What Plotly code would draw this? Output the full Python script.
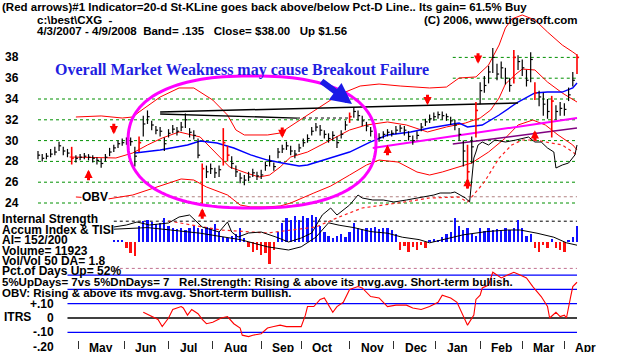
import math
import plotly.graph_objects as go

W, H = 640, 352

# ---------------- data ----------------
# trading-day index (0 = 4/3/2007 ... 256 = 4/9/2008); one bar every 2 days
bar_day = list(range(0, 257, 2))
close = [28.6, 28.3, 28.5, 28.7, 28.9, 29.5, 29.0, 28.8, 28.3, 28.3,
         28.4, 28.5, 28.4, 28.3, 28.1, 27.8, 28.4, 28.9, 29.3, 29.7,
         29.8, 30.0, 29.9, 28.5, 29.8, 31.6, 32.3, 31.5, 31.0, 30.9,
         29.7, 30.7, 31.1, 30.9, 31.3, 32.0, 30.8, 30.5, 28.6, 27.3,
         27.0, 27.3, 26.9, 27.2, 29.8, 28.6, 27.8, 27.0, 26.4, 26.2,
         26.5, 26.9, 26.6, 26.7, 27.6, 28.0, 27.5, 28.9, 29.2, 29.5,
         29.0, 28.7, 29.3, 29.8, 30.2, 30.9, 31.3, 31.0, 30.6, 30.2,
         30.5, 29.8, 30.6, 31.5, 32.3, 32.8, 32.4, 31.9, 31.4, 30.9,
         30.6, 30.3, 30.6, 30.8, 30.7, 31.0, 31.2, 31.0, 30.4, 30.0,
         30.5, 31.3, 31.8, 32.1, 32.3, 32.5, 32.4, 32.3, 31.9, 31.5,
         30.6, 29.0, 27.0, 29.4, 32.9, 34.8, 35.3, 36.6, 38.0, 36.4,
         37.0, 36.0, 35.3, 38.0, 37.6, 37.0, 35.8, 37.8, 34.6, 34.2,
         33.5, 32.8, 33.8, 32.8, 33.1, 33.0, 34.4, 35.8, 38.0]
high = [29.0, 28.7, 28.8, 29.2, 29.4, 29.9, 29.4, 29.2, 29.4, 28.6,
        28.7, 28.8, 28.7, 28.6, 28.4, 28.3, 28.7, 29.3, 29.6, 30.0,
        30.2, 30.3, 30.3, 29.4, 30.4, 32.4, 32.9, 31.9, 31.4, 31.3,
        30.3, 31.1, 31.5, 31.3, 31.8, 32.6, 31.2, 31.0, 30.2, 27.8,
        27.6, 27.8, 27.4, 27.6, 31.2, 29.5, 28.5, 27.6, 26.9, 26.7,
        27.0, 27.3, 27.0, 27.2, 28.0, 28.6, 27.9, 29.3, 29.6, 29.9,
        29.5, 29.1, 29.7, 30.2, 30.6, 31.3, 31.7, 31.5, 31.0, 30.7,
        30.9, 30.4, 31.0, 31.9, 32.7, 33.2, 32.9, 32.4, 31.8, 31.3,
        31.0, 30.7, 30.9, 31.1, 31.0, 31.4, 31.5, 31.4, 30.9, 30.5,
        30.9, 31.7, 32.1, 32.5, 32.7, 32.8, 32.8, 32.6, 32.3, 32.0,
        31.2, 30.0, 29.6, 30.4, 33.7, 35.6, 36.2, 37.2, 38.9, 37.4,
        37.6, 37.0, 36.0, 38.7, 38.2, 37.8, 36.8, 38.5, 35.6, 34.8,
        34.6, 34.0, 34.3, 33.4, 33.7, 33.6, 35.1, 36.6, 38.3]
low = [28.2, 28.0, 28.2, 28.4, 28.6, 29.0, 28.6, 28.4, 27.7, 27.9,
       28.1, 28.2, 28.1, 27.9, 27.7, 27.4, 28.0, 28.5, 28.9, 29.3,
       29.5, 29.6, 29.5, 27.5, 28.9, 30.4, 31.6, 31.0, 30.6, 30.4,
       29.0, 30.3, 30.7, 30.5, 30.9, 31.2, 30.3, 30.1, 28.3, 23.8,
       26.4, 26.8, 26.4, 26.5, 27.6, 28.0, 27.3, 26.5, 25.9, 25.7,
       26.1, 26.5, 26.2, 26.3, 27.1, 27.5, 27.1, 28.3, 28.8, 29.1,
       28.6, 28.3, 28.9, 29.4, 29.8, 30.5, 30.9, 30.5, 30.2, 29.8,
       30.0, 29.3, 30.2, 31.0, 31.7, 32.2, 31.9, 31.4, 30.9, 30.4,
       30.2, 29.9, 30.2, 30.4, 30.4, 30.6, 30.8, 30.5, 30.0, 29.6,
       30.1, 30.9, 31.4, 31.7, 31.9, 32.1, 32.0, 31.9, 31.5, 31.0,
       30.0, 27.5, 25.4, 27.8, 30.3, 33.5, 34.6, 35.5, 36.5, 35.8,
       36.0, 35.4, 34.7, 35.5, 36.8, 36.2, 35.2, 35.6, 33.9, 33.3,
       32.4, 32.1, 30.3, 32.0, 32.4, 32.4, 33.8, 35.2, 36.4]
red_bar_day = [16, 48, 78, 88, 90, 148, 204, 208, 226, 236, 244, 256]

price_ticks = [24, 26, 28, 30, 32, 34, 36, 38]
months = ["May", "Jun", "Jul", "Aug", "Sep", "Oct", "Nov", "Dec", "Jan", "Feb", "Mar", "Apr"]
month_day = [19, 41, 62, 83, 106, 125, 148, 169, 189, 210, 230, 250]

upper_day = [18, 30, 40, 45, 48, 58, 67, 74, 83, 90, 94, 98, 109, 115, 123, 133, 139, 146, 153, 162,
             172, 186, 194, 200, 208, 214, 219, 222, 225, 230, 236, 242, 249, 254, 256]
upper_val = [32.27, 32.37, 32.17, 32.27, 32.75, 34.19, 35.06, 35.06, 33.90, 32.46, 31.02, 30.54, 30.54,
             30.73, 31.79, 33.13, 33.90, 34.67, 35.25, 35.44, 35.25, 35.06, 35.15, 36.02, 36.12, 37.27,
             39.19, 40.83, 41.69, 42.08, 41.60, 40.44, 39.19, 38.52, 38.23]
mid_day = [15, 29, 37, 45, 52, 59, 67, 77, 83, 91, 99, 105, 110, 115, 120, 128, 139, 148, 156, 166,
           175, 185, 194, 203, 210, 215, 219, 222, 227, 230, 236, 242, 249, 254, 256]
mid_val = [28.42, 28.33, 28.33, 28.81, 29.58, 30.25, 30.83, 30.35, 29.10, 27.46, 26.88, 26.50, 26.69,
           27.46, 28.42, 28.90, 30.06, 31.02, 31.50, 31.79, 31.50, 30.83, 31.31, 31.69, 32.17, 32.94,
           34.10, 35.44, 36.40, 36.88, 36.79, 35.63, 34.58, 34.00, 33.71]
lower_day = [18, 33, 45, 52, 62, 68, 74, 80, 90, 96, 101, 108, 115, 120, 131, 139, 148, 156, 162, 171,
             180, 186, 192, 200, 206, 214, 222, 228, 235, 241, 247, 254, 256]
lower_val = [24.58, 24.38, 24.77, 25.25, 25.92, 26.31, 26.21, 25.54, 24.77, 23.81, 23.62, 23.62, 23.71,
             24.00, 24.96, 25.63, 26.69, 27.65, 28.13, 27.94, 26.98, 26.69, 26.98, 27.46, 27.85, 28.90,
             30.25, 31.50, 31.98, 31.50, 30.54, 29.58, 29.10]
ma50_day = [46, 58, 71, 77, 85, 93, 101, 109, 116, 124, 128, 139, 148, 158, 166, 177, 186, 200, 204,
            211, 219, 228, 236, 242, 249, 254, 256]
ma50_val = [28.81, 29.10, 29.58, 29.96, 29.77, 29.29, 28.62, 28.13, 27.85, 27.56, 27.65, 28.33, 28.90,
            29.87, 30.54, 30.83, 31.21, 31.69, 31.31, 31.50, 32.46, 33.71, 34.58, 34.67, 34.67, 35.06, 35.54]

magenta_day, magenta_val = [159, 256], [29.29, 32.17]
purple_day, purple_val = [197, 256], [29.67, 31.21]
res1_day, res1_val = [58, 228], [32.75, 33.62]
res2_day, res2_val = [58, 123], [32.56, 32.17]
res2d_day, res2d_val = [123, 148], [32.17, 32.17]

obv_day = [36, 42, 47, 53, 62, 67, 72, 78, 86, 90, 92, 95, 100, 106, 113, 119, 125, 130, 135, 139,
           142, 145, 148, 150, 152, 154, 159, 164, 169, 175, 181, 188, 191, 196, 198, 203, 205, 207, 208, 209,
           211, 214, 217, 222, 227, 233, 236, 239, 242, 245, 246, 249, 252, 255, 256]
obv_val = [1.3, 1.5, 1.8, 1.5, 1.7, 2.3, 2.5, 1.3, 0.8, 1.8, 0.8, 0.3, 0.7, 0.8, 0.3, -0.2, 0.2, 0.7, 2.5, 3.2,
           2.5, 3.0, 3.5, 4.0, 4.5, 4.2, 4.0, 4.0, 3.8, 4.0, 4.2, 4.5, 4.7, 4.7, 4.8, 4.2, 3.8, 8.2, 8.8, 9.5,
           9.8, 9.5, 10.0, 9.8, 10.0, 10.3, 9.8, 9.8, 9.2, 8.8, 7.2, 7.5, 7.7, 8.5, 9.5]
obvma_day = [62, 73, 87, 109, 132, 143, 154, 171, 186, 200, 204, 212, 219, 225, 230, 236, 242, 249, 254, 256]
obvma_val = [1.9, 1.5, 1.0, 0.7, 1.3, 2.3, 3.2, 3.7, 4.2, 4.3, 3.8, 5.8, 8.2, 9.5, 10.0, 10.0, 9.8, 9.5, 8.8, 8.5]

ai_val = [None] * 18 + [
    0.02, 0.03, 0.02, -0.08, -0.14, -0.18, 0.20, 0.26, 0.28, 0.25,
    0.22, 0.24, 0.30, 0.20, 0.17, 0.16, 0.18, 0.15, 0.17, 0.20,
    0.18, 0.16, 0.19, 0.18, 0.22, 0.12, 0.06, 0.05, 0.07, 0.10,
    0.18, 0.05, -0.06, -0.12, -0.10, -0.16, -0.14, -0.28, -0.10, 0.12,
    0.24, 0.30, 0.28, 0.32, 0.27, 0.33, 0.30, 0.34, 0.31, 0.20,
    0.12, 0.08, 0.05, 0.07, 0.10, 0.06, 0.12, 0.24, 0.18, 0.16,
    0.18, 0.17, 0.19, 0.16, 0.18, 0.17, 0.15, 0.10, -0.10, -0.05,
    -0.12, -0.06, -0.10, -0.04, -0.08, 0.02, 0.04, 0.02, 0.06, 0.10,
    0.12, 0.30, 0.20, 0.15, 0.18, 0.10, 0.08, 0.17, 0.14, 0.18,
    0.15, 0.16, 0.14, 0.17, 0.15, 0.18, 0.27, 0.18, 0.08, 0.10,
    -0.08, -0.12, -0.04, -0.08, 0.04, -0.08, -0.10, -0.12, 0.02, 0.06,
    0.20]
aima_day = [36, 52, 63, 77, 96, 109, 119, 125, 132, 138, 143, 150, 158, 166, 173, 181, 186, 192, 202,
            213, 223, 229, 237, 245, 251, 256]
aima_val = [0.16, 0.18, 0.15, 0.11, 0.03, -0.06, -0.10, -0.06, 0.06, 0.24, 0.21, 0.18, 0.13, 0.11, 0.06,
            0.03, -0.01, 0.03, 0.09, 0.13, 0.15, 0.15, 0.11, 0.06, -0.01, -0.04]
ai_levels = [0.26, -0.33]

itrs_day = [50, 53, 57, 59, 62, 64, 68, 69, 71, 73, 76, 78, 80, 83, 87, 90, 93, 96, 97, 100,
            102, 106, 109, 112, 115, 118, 121, 125, 127, 128, 131, 134, 136, 140, 142, 145, 148, 152, 154, 158,
            162, 166, 170, 175, 178, 182, 186, 190, 192, 196, 199, 202, 204, 207, 208, 210, 211, 214, 216, 220,
            223, 226, 229, 232, 235, 239, 242, 243, 246, 248, 250, 251, 253, 254, 256]
itrs_val = [0.04, 0.02, -0.01, -0.06, 0.0, 0.06, 0.08, 0.07, 0.02, 0.06, 0.03, -0.01, -0.04, -0.03, 0.0,
            0.01, -0.04, -0.07, -0.12, -0.13, -0.12, -0.11, -0.07, -0.06, -0.05, -0.06, -0.06, -0.06, 0.02,
            0.08, 0.08, 0.13, 0.14, 0.04, 0.08, 0.11, 0.20, 0.22, 0.21, 0.15, 0.14, 0.08, 0.09, 0.09, 0.07,
            0.06, 0.08, 0.11, 0.16, 0.14, 0.11, 0.01, -0.05, 0.02, 0.13, 0.16, 0.21, 0.23, 0.32, 0.28, 0.30,
            0.32, 0.30, 0.28, 0.22, 0.15, 0.08, 0.0, 0.04, 0.01, 0.02, 0.0, 0.15, 0.22, 0.25]
itrs_blue_levels = [0.30, 0.20, 0.10, -0.10]
itrs_labels = [("+.10", 0.10), ("0", 0.0), ("-.10", -0.10), ("-.20", -0.20)]

buy_day = [24, 78, 166, 204, 236]
buy_price = [27.2, 23.5, 29.6, 26.4, 31.0]
sell_day = [36, 116, 185, 209]
sell_price = [30.6, 30.25, 33.4, 37.4]

# ---------------- layout calibration ----------------
def axis_range(v1, p1, v2, p2):
    s = (v2 - v1) / (p2 - p1)
    return [v1 + s * (H - p1), v1 + s * (0 - p1)]

x_s = (256 - 0) / (577 - 38)
x_range = [0 + x_s * (0 - 38), 0 + x_s * (W - 38)]
y_price = axis_range(24, 203, 38, 57.4)
y_ai = axis_range(0, 242, 0.25, 222)
y_itrs = axis_range(0, 318, 0.10, 303.7)
y_obv = axis_range(0, 240, 1, 230)

def px(x):
    return x / W

def py(y):
    return 1 - y / H

FONT = "Liberation Sans"
FS = 11.5
fig = go.Figure()

def line(xs, ys, color, width=1, dash=None, yaxis="y"):
    fig.add_trace(go.Scatter(x=xs, y=ys, mode="lines", yaxis=yaxis, hoverinfo="skip",
                             line=dict(color=color, width=width, dash=dash)))

# AI histogram
ai_x = [d for d, v in zip(bar_day, ai_val) if v is not None]
ai_y = [v for v in ai_val if v is not None]
fig.add_trace(go.Bar(x=ai_x, y=ai_y, yaxis="y2", width=1.1,
                     marker=dict(color=["#1010ff" if v >= 0 else "#ff1010" for v in ai_y], line_width=0)))
line(aima_day, aima_val, "black", 1, yaxis="y2")

# ITRS
line(itrs_day, itrs_val, "#ff0000", 1.1, yaxis="y3")

# OBV
line(obvma_day, obvma_val, "#ff2020", 1.2, "dot", yaxis="y4")
line(obv_day, obv_val, "black", 1, yaxis="y4")

# price overlays
line(upper_day, upper_val, "#ff0000", 1)
line(mid_day, mid_val, "#ff0000", 1)
line(lower_day, lower_val, "#ff0000", 1)
line(ma50_day, ma50_val, "#0000ff", 1.4)
line(res1_day, res1_val, "black", 1.5)
line(res2_day, res2_val, "black", 1.3)
line(res2d_day, res2d_val, "black", 1, "dot")
line(purple_day, purple_val, "#800080", 1.5)
line(magenta_day, magenta_val, "#ff00ff", 2)

# price bars
def bar_paths(sel):
    xs, ys = [], []
    for d, h, l, c in zip(bar_day, high, low, close):
        if sel(d):
            xs += [d, d, None, d, d + 1.0, None]
            ys += [l, h, None, c, c, None]
    return xs, ys

bx, by = bar_paths(lambda d: d not in red_bar_day)
line(bx, by, "black", 1.2)
rx, ry = bar_paths(lambda d: d in red_bar_day)
line(rx, ry, "#ff0000", 1.6)

shapes = []
# price grid
for v in price_ticks:
    x0 = 197 if v >= 36 else 0
    shapes.append(dict(type="line", xref="x", yref="y", x0=x0, x1=256, y0=v, y1=v, layer="below",
                       line=dict(color="#009000", width=1, dash="dot")))
shapes.append(dict(type="line", xref="x", yref="y", x0=36, x1=256, y0=24.6, y1=24.6, layer="below",
                   line=dict(color="#b08080", width=1, dash="dot")))
# AI levels
shapes.append(dict(type="line", xref="x", yref="y2", x0=36, x1=256, y0=ai_levels[0], y1=ai_levels[0],
                   layer="below", line=dict(color="black", width=1, dash="dot")))
shapes.append(dict(type="line", xref="x", yref="y2", x0=36, x1=256, y0=ai_levels[1], y1=ai_levels[1],
                   layer="below", line=dict(color="#c07090", width=1, dash="dot")))
# ITRS levels
for v in itrs_blue_levels:
    shapes.append(dict(type="line", xref="x", yref="y3", x0=14, x1=256, y0=v, y1=v, layer="below",
                       line=dict(color="#0000ff", width=1.3)))
shapes.append(dict(type="line", xref="x", yref="y3", x0=14, x1=256, y0=0, y1=0, layer="below",
                   line=dict(color="black", width=1.3)))
# magenta ellipse (hand drawn highlight)
cx, cy, ea, eb, n = 252, 142, 124, 66, 2.4
pts = []
for i in range(145):
    t = 2 * math.pi * i / 144
    c, s = math.cos(t), math.sin(t)
    ex = cx + ea * math.copysign(abs(c) ** (2 / n), c)
    ey = cy + eb * math.copysign(abs(s) ** (2 / n), s)
    pts.append(f"{px(ex):.4f},{py(ey):.4f}")
shapes.append(dict(type="path", xref="paper", yref="paper", path="M " + " L ".join(pts) + " Z",
                   line=dict(color="#ff00ff", width=3)))

ann = []

def txt(s, x, y, size=FS, color="black", family=FONT, weight="bold", xanchor="left", bg=None,
        xref="paper", yref="paper"):
    d = dict(text=s, x=x, y=y, xref=xref, yref=yref, xanchor=xanchor, yanchor="middle",
             showarrow=False, font=dict(family=family, size=size, color=color, weight=weight))
    if bg:
        d.update(bgcolor=bg, borderpad=0)
    ann.append(d)

txt("(Red arrows)#1 Indicator=20-d St-KLine goes back above/below Pct-D Line.. Its gain= 61.5% Buy",
    0, py(7))
txt("c:\\best\\CXG  -", px(35), py(20))
txt("4/3/2007 - 4/9/2008  Band= .135   Close= $38.00   Up $1.56", px(35), py(31))
txt("(C) 2006, www.tigersoft.com", px(422), py(20))
txt("Overall Market Weakness may cause Breakout Failure", px(53), py(70), size=16,
    color="#1f1fe0", family="Liberation Serif")
for v in price_ticks:
    txt(str(v), px(12), v, size=12, xanchor="center", yref="y")
txt("OBV", px(81), py(197), size=12, bg="white")

left_lines = ["Internal Strength", "Accum Index & TISI", "AI= 152/200", "Volume= 11923",
              "Vol/Vol 50 DA= 1.8", "Pct.of Days Up= 52%",
              "5%UpDays= 7vs 5%DnDays= 7   Rel.Strength: Rising & above its mvg.avg. Short-term bullish.",
              "OBV: Rising & above its mvg.avg. Short-term bullish."]
left_y = [219, 230, 240, 251, 261, 271, 282, 293]
for s, yy in zip(left_lines, left_y):
    txt(s, 0, py(yy), size=12 if yy < 280 else FS)
txt("ITRS", px(2), py(317), size=12)
for s, v in itrs_labels:
    txt(s, px(56), v, size=12, xanchor="right", yref="y3")
for m, d in zip(months, month_day):
    ann.append(dict(text=m, x=d, y=py(348), xref="x", yref="paper", xanchor="left", yanchor="middle",
                    xshift=9, showarrow=False, font=dict(family=FONT, size=12, color="black", weight="bold")))

# red signal arrows
for d, v in zip(buy_day, buy_price):
    ann.append(dict(x=d, y=v, xref="x", yref="y", ax=0, ay=12, text="", showarrow=True,
                    arrowhead=2, arrowsize=0.55, arrowwidth=3, arrowcolor="#ff0000"))
for d, v in zip(sell_day, sell_price):
    ann.append(dict(x=d, y=v, xref="x", yref="y", ax=0, ay=-12, text="", showarrow=True,
                    arrowhead=2, arrowsize=0.55, arrowwidth=3, arrowcolor="#ff0000"))
# blue hand-drawn arrow
ann.append(dict(x=px(352), y=py(104), xref="paper", yref="paper", ax=-32, ay=-24, text="",
                showarrow=True, arrowhead=2, arrowsize=0.7, arrowwidth=6, arrowcolor="#1a1ae6"))

fig.update_layout(
    width=W, height=H, margin=dict(l=0, r=0, t=0, b=0),
    paper_bgcolor="white", plot_bgcolor="white", showlegend=False,
    shapes=shapes, annotations=ann, bargap=0,
    xaxis=dict(range=x_range, domain=[0, 1], showgrid=False, zeroline=False, showline=False,
               tickvals=month_day, ticks="outside", ticklen=8, tickcolor="#303030", tickwidth=1,
               showticklabels=False, anchor="free", position=py(340)),
    yaxis=dict(range=y_price, domain=[0, 1], visible=False),
    yaxis2=dict(range=y_ai, overlaying="y", visible=False),
    yaxis3=dict(range=y_itrs, overlaying="y", visible=False),
    yaxis4=dict(range=y_obv, overlaying="y", visible=False),
)

fig.write_html("out.html")
